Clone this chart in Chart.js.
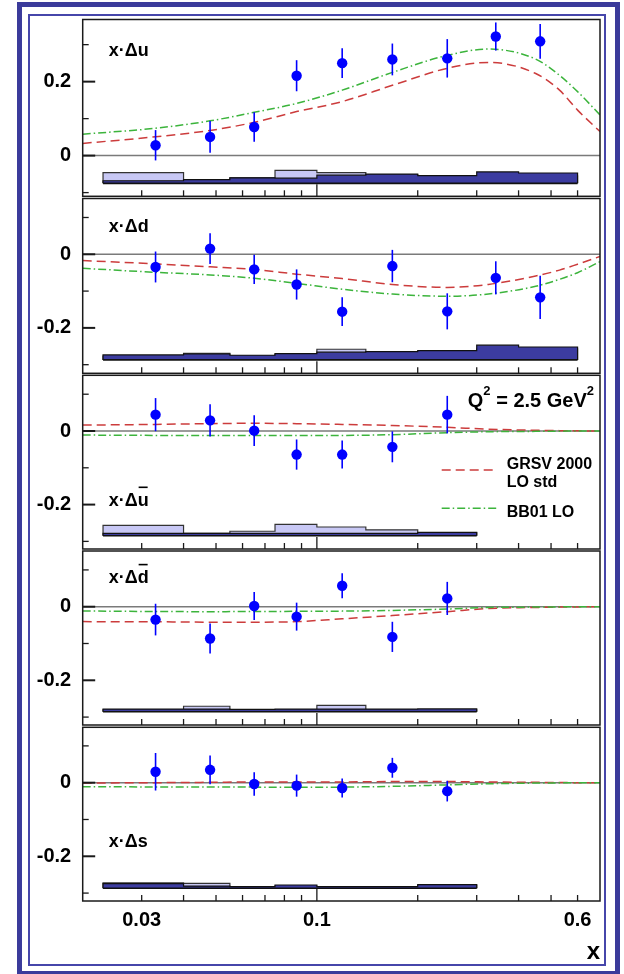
<!DOCTYPE html>
<html>
<head>
<meta charset="utf-8">
<script src="https://cdn.jsdelivr.net/npm/chart.js@4.4.1/dist/chart.umd.min.js"></script>
<style>
  html, body { margin: 0; padding: 0; background: #fff; }
  #page { position: relative; width: 624px; height: 974px; overflow: hidden; background: #fff; }
  .outer { position: absolute; left: 17.3px; top: 1.7px; width: 603.2px; height: 974px; box-sizing: border-box; border: 5.3px solid #3b3b9b; }
  .inner { position: absolute; left: 28.3px; top: 14.3px; width: 577.7px; height: 951.7px; box-sizing: border-box; border: 2px solid #4646aa; }
  canvas { position: absolute; left: 0; }
</style>
</head>
<body>
<div id="page">
  <div class="outer"></div>
  <div class="inner"></div>
</div>
<script>
// x binning and positions (HERMES bins)
const xBinEdges = [0.023, 0.04, 0.055, 0.075, 0.1, 0.14, 0.2, 0.3, 0.4, 0.6];
const xMean = [0.033, 0.048, 0.065, 0.087, 0.119, 0.168, 0.245, 0.342, 0.464];
const xCurve = [0.02, 0.033, 0.048, 0.065, 0.087, 0.119, 0.168, 0.245, 0.325, 0.45, 0.53, 0.6, 0.7];
const xTickVals = [0.03, 0.04, 0.05, 0.06, 0.07, 0.08, 0.09, 0.1, 0.2, 0.3, 0.4, 0.5, 0.6];
const xLabelVals = [0.03, 0.1, 0.6];

// x·Δu
const duVal = [0.028, 0.0505, 0.0775, 0.216, 0.250, 0.260, 0.263, 0.322, 0.309];
const duErr = [0.041, 0.043, 0.040, 0.042, 0.040, 0.043, 0.052, 0.038, 0.047];
const duGrsv = [0.033, 0.051, 0.068, 0.090, 0.119, 0.146, 0.190, 0.236, 0.252, 0.222, 0.177, 0.123, 0.065];
const duBb01 = [0.058, 0.074, 0.094, 0.117, 0.141, 0.177, 0.225, 0.271, 0.288, 0.261, 0.217, 0.173, 0.110];
const duSysDark = [0.007, 0.010, 0.015, 0.014, 0.022, 0.025, 0.021, 0.031, 0.028];
const duSysLight = [0.029, 0.008, 0.015, 0.035, 0.029, 0.024, 0.015, 0.020, 0.020];

// x·Δd
const ddVal = [-0.0345, 0.0155, -0.041, -0.082, -0.156, -0.032, -0.155, -0.064, -0.117];
const ddErr = [0.042, 0.042, 0.040, 0.041, 0.039, 0.044, 0.049, 0.045, 0.059];
const ddGrsv = [-0.017, -0.026, -0.034, -0.041, -0.054, -0.066, -0.082, -0.090, -0.082, -0.059, -0.043, -0.027, -0.006];
const ddBb01 = [-0.038, -0.049, -0.056, -0.065, -0.079, -0.095, -0.108, -0.114, -0.108, -0.087, -0.068, -0.050, -0.020];
const ddSysDark = [0.0135, 0.016, 0.0127, 0.017, 0.021, 0.0226, 0.025, 0.040, 0.035];
const ddSysLight = [0.010, 0.018, 0.010, 0.015, 0.029, 0.020, 0.020, 0.030, 0.030];

// x·Δū
const ubVal = [0.0445, 0.029, 0.001, -0.064, -0.064, -0.043, 0.0445];
const ubErr = [0.045, 0.044, 0.042, 0.041, 0.038, 0.042, 0.051];
const ubGrsv = [0.016, 0.018, 0.020, 0.021, 0.020, 0.018, 0.015, 0.010, 0.005, 0.002, 0.001, 0.0005, 0];
const ubBb01 = [-0.011, -0.012, -0.0125, -0.0125, -0.012, -0.012, -0.010, -0.0045, -0.002, -0.001, -0.0005, 0, 0];
const ubSysDark = [0.0065, 0.0065, 0.0065, 0.0065, 0.0065, 0.0065, 0.009];
const ubSysLight = [0.028, 0.0065, 0.012, 0.031, 0.0236, 0.016, 0.008];

// x·Δd̄
const dbVal = [-0.035, -0.0865, 0.002, -0.027, 0.057, -0.082, 0.0225];
const dbErr = [0.043, 0.041, 0.038, 0.038, 0.034, 0.041, 0.045];
const dbGrsv = [-0.0405, -0.041, -0.042, -0.042, -0.0405, -0.033, -0.024, -0.0135, -0.005, -0.002, -0.001, -0.0005, 0];
const dbBb01 = [-0.0117, -0.013, -0.0135, -0.013, -0.0126, -0.012, -0.010, -0.0063, -0.002, -0.001, -0.0005, 0, 0];
const dbSysDark = [0.007, 0.007, 0.006, 0.007, 0.007, 0.007, 0.0075];
const dbSysLight = [0.005, 0.0147, 0.005, 0.005, 0.0174, 0.005, 0.005];

// x·Δs
const dsVal = [0.0297, 0.035, -0.0036, -0.008, -0.0144, 0.0405, -0.023];
const dsErr = [0.051, 0.039, 0.032, 0.030, 0.026, 0.027, 0.028];
const dsGrsv = [-0.001, 0, 0.001, 0.002, 0.002, 0.002, 0.003, 0.003, 0.002, 0.001, 0.0005, 0, 0];
const dsBb01 = [-0.011, -0.0115, -0.0117, -0.012, -0.0126, -0.012, -0.010, -0.006, -0.003, -0.001, -0.0005, 0, 0];
const dsSysDark = [0.0125, 0.006, 0.0045, 0.009, 0.0045, 0.0045, 0.010];
const dsSysLight = [0.0145, 0.0136, 0.004, 0.006, 0.004, 0.004, 0.008];

const BLUE = '#0000ff';
const RED = '#cc3c3c';
const GREEN = '#3cb43c';
const DARK = '#3c3ca0';
const LIGHT = '#c8c8f5';
const FONT = '"Liberation Sans", Arial, Helvetica, sans-serif';

const panels = [
  { label: 'x\u00B7\u0394', flav: 'u', bar: false, vals: duVal, errs: duErr, grsv: duGrsv, bb: duBb01,
    dark: duSysDark, light: duSysLight, sysBase: -0.075, yMin: -0.110, yMax: 0.368,
    top: 19.5, bottom: 196.3, labelDy: 36.5 },
  { label: 'x\u00B7\u0394', flav: 'd', bar: false, vals: ddVal, errs: ddErr, grsv: ddGrsv, bb: ddBb01,
    dark: ddSysDark, light: ddSysLight, sysBase: -0.287, yMin: -0.3234, yMax: 0.1516,
    top: 198.5, bottom: 373.3, labelDy: 33.2 },
  { label: 'x\u00B7\u0394', flav: 'u', bar: true, vals: ubVal, errs: ubErr, grsv: ubGrsv, bb: ubBb01,
    dark: ubSysDark, light: ubSysLight, sysBase: -0.2845, yMin: -0.3207, yMax: 0.1514,
    top: 375.3, bottom: 549, labelDy: 130.7, legend: true },
  { label: 'x\u00B7\u0394', flav: 'd', bar: true, vals: dbVal, errs: dbErr, grsv: dbGrsv, bb: dbBb01,
    dark: dbSysDark, light: dbSysLight, sysBase: -0.2853, yMin: -0.3215, yMax: 0.1514,
    top: 551, bottom: 725, labelDy: 32.3 },
  { label: 'x\u00B7\u0394', flav: 's', bar: false, vals: dsVal, errs: dsErr, grsv: dsGrsv, bb: dsBb01,
    dark: dsSysDark, light: dsSysLight, sysBase: -0.287, yMin: -0.3215, yMax: 0.1505,
    top: 727.3, bottom: 901, labelDy: 120, last: true }
];

function isMajor(v) {
  const r = v / 0.2;
  return Math.abs(r - Math.round(r)) < 1e-6;
}

function stepData(heights, base) {
  const n = heights.length;
  const pts = [{ x: xBinEdges[0], y: base }];
  heights.forEach((h, i) => pts.push({ x: xBinEdges[i], y: base + h }));
  pts.push({ x: xBinEdges[n], y: base + heights[n - 1] });
  pts.push({ x: xBinEdges[n], y: base });
  return pts;
}

const decor = {
  id: 'decor',
  afterDatasetsDraw(chart, args, o) {
    const { ctx, scales: { x, y } } = chart;
    const ds = chart.data.datasets.find(d => d.errors);
    ctx.save();
    ctx.strokeStyle = BLUE;
    ctx.lineWidth = 1.6;
    ds.data.forEach((p, i) => {
      const px = x.getPixelForValue(p.x);
      ctx.beginPath();
      ctx.moveTo(px, y.getPixelForValue(p.y - ds.errors[i]));
      ctx.lineTo(px, y.getPixelForValue(p.y + ds.errors[i]));
      ctx.stroke();
    });
    ctx.restore();
  },
  afterDraw(chart, args, o) {
    const { ctx, chartArea: a, scales: { x, y } } = chart;
    ctx.save();
    ctx.strokeStyle = '#1a1a1a';
    ctx.lineWidth = 1.5;
    ctx.strokeRect(a.left, a.top, a.right - a.left, a.bottom - a.top);

    // ticks inside the frame
    y.ticks.forEach(t => {
      const py = y.getPixelForValue(t.value);
      const major = isMajor(t.value);
      ctx.lineWidth = major ? 2 : 1.3;
      ctx.beginPath();
      ctx.moveTo(a.left, py);
      ctx.lineTo(a.left + (major ? 12.5 : 6), py);
      ctx.stroke();
    });
    ctx.lineWidth = 1.3;
    xTickVals.forEach(v => {
      const px = x.getPixelForValue(v);
      ctx.beginPath();
      ctx.moveTo(px, a.bottom);
      ctx.lineTo(px, a.bottom - (v === 0.1 ? 12 : 6));
      ctx.stroke();
    });

    // panel label
    ctx.fillStyle = '#000';
    ctx.font = 'bold 18px ' + FONT;
    ctx.textBaseline = 'alphabetic';
    ctx.textAlign = 'left';
    const lx = a.left + 26, ly = a.top + o.labelDy;
    ctx.fillText(o.label, lx, ly);
    const w = ctx.measureText(o.label).width;
    ctx.fillText(o.flav, lx + w, ly);
    if (o.bar) {
      const fw = ctx.measureText(o.flav).width;
      ctx.fillRect(lx + w + 1, ly - 19.5, fw - 2, 1.6);
    }

    if (o.legend) {
      // Q^2 = 2.5 GeV^2
      const parts = [['Q', 20, 0], ['2', 13, 12], [' = 2.5 GeV', 20, 0], ['2', 13, 12]];
      let total = 0;
      parts.forEach(p => { ctx.font = 'bold ' + p[1] + 'px ' + FONT; total += ctx.measureText(p[0]).width; });
      let qx = 594 - total;
      const qy = a.top + 32;
      parts.forEach(p => {
        ctx.font = 'bold ' + p[1] + 'px ' + FONT;
        ctx.fillText(p[0], qx, qy - p[2]);
        qx += ctx.measureText(p[0]).width;
      });

      const items = chart.data.datasets.filter(d => d.legendText)
        .sort((d1, d2) => d1.legendRank - d2.legendRank);
      const sampleY = [94.7, 133];
      const textY = [[94, 111.4], [141.4]];
      items.forEach((d, k) => {
        ctx.strokeStyle = d.borderColor;
        ctx.lineWidth = d.borderWidth;
        ctx.setLineDash(d.borderDash);
        ctx.beginPath();
        ctx.moveTo(441.7, a.top + sampleY[k]);
        ctx.lineTo(496.7, a.top + sampleY[k]);
        ctx.stroke();
        ctx.setLineDash([]);
        ctx.font = 'bold 16px ' + FONT;
        d.legendText.forEach((line, j) => ctx.fillText(line, 506.7, a.top + textY[k][j]));
      });
    }
    ctx.restore();
  }
};

const page = document.getElementById('page');

panels.forEach(p => {
  const canvasTop = Math.floor(p.top) - 6;
  const axisH = p.last ? 63 : 0;
  const canvasH = Math.ceil(p.bottom) + (p.last ? axisH + 4 : 6) - canvasTop;
  const canvas = document.createElement('canvas');
  canvas.width = 624;
  canvas.height = canvasH;
  canvas.style.top = canvasTop + 'px';
  page.appendChild(canvas);

  const n = p.vals.length;
  const lastEdge = xBinEdges[n];

  new Chart(canvas, {
    type: 'scatter',
    data: {
      datasets: [
        {
          data: xMean.slice(0, n).map((x, i) => ({ x: x, y: p.vals[i] })),
          errors: p.errs,
          backgroundColor: BLUE, borderColor: BLUE,
          pointRadius: 5.2, pointBorderWidth: 0, showLine: false, order: 0
        },
        {
          data: xCurve.map((x, i) => ({ x: x, y: p.bb[i] })),
          legendText: p.legend ? ['BB01 LO'] : null, legendRank: 2,
          showLine: true, borderColor: GREEN, borderWidth: 1.5, borderDash: [8, 3, 1.5, 3],
          pointRadius: 0, cubicInterpolationMode: 'monotone', order: 2
        },
        {
          data: xCurve.map((x, i) => ({ x: x, y: p.grsv[i] })),
          legendText: p.legend ? ['GRSV 2000', 'LO std'] : null, legendRank: 1,
          showLine: true, borderColor: RED, borderWidth: 1.5, borderDash: [9, 5],
          pointRadius: 0, cubicInterpolationMode: 'monotone', order: 3
        },
        {
          data: [{ x: xBinEdges[0], y: p.sysBase }, { x: lastEdge, y: p.sysBase }],
          showLine: true, borderColor: '#111', borderWidth: 1.6, pointRadius: 0, order: 6
        },
        {
          data: stepData(p.dark, p.sysBase),
          showLine: true, stepped: 'before', fill: { value: p.sysBase },
          backgroundColor: DARK, borderColor: '#111', borderWidth: 1.2, pointRadius: 0, order: 7
        },
        {
          data: stepData(p.light, p.sysBase),
          showLine: true, stepped: 'before', fill: { value: p.sysBase },
          backgroundColor: LIGHT, borderColor: '#333', borderWidth: 1.2, pointRadius: 0, order: 8
        },
        {
          data: [{ x: 0.02, y: 0 }, { x: 0.7, y: 0 }],
          showLine: true, borderColor: '#7a7a7a', borderWidth: 1.5, pointRadius: 0, order: 10
        }
      ]
    },
    options: {
      responsive: false,
      animation: false,
      devicePixelRatio: 1,
      events: [],
      layout: {
        padding: {
          left: 12.7,
          right: 24,
          top: p.top - canvasTop,
          bottom: canvasTop + canvasH - p.bottom - axisH
        }
      },
      plugins: {
        legend: { display: false },
        tooltip: { enabled: false },
        decor: { label: p.label, flav: p.flav, bar: p.bar, labelDy: p.labelDy, legend: !!p.legend }
      },
      scales: {
        x: {
          type: 'logarithmic',
          min: 0.02,
          max: 0.7,
          display: !!p.last,
          grid: { display: false, drawTicks: false },
          border: { display: false },
          afterBuildTicks: s => { s.ticks = xTickVals.map(v => ({ value: v })); },
          afterFit: s => { s.height = axisH; s.paddingLeft = 0; s.paddingRight = 0; },
          ticks: {
            autoSkip: false,
            maxRotation: 0,
            padding: 7,
            color: '#000',
            font: { family: FONT, size: 20, weight: 'bold' },
            callback: v => xLabelVals.some(l => Math.abs(l - v) < 1e-9) ? String(v) : ''
          },
          title: {
            display: true,
            text: 'x',
            align: 'end',
            color: '#000',
            font: { family: FONT, size: 24, weight: 'bold', lineHeight: 1 },
            padding: { top: 0, bottom: 0 }
          }
        },
        y: {
          min: p.yMin,
          max: p.yMax,
          grid: { display: false, drawTicks: false },
          border: { display: false },
          afterFit: s => { s.width = 70; s.paddingTop = 0; s.paddingBottom = 0; },
          ticks: {
            stepSize: 0.05,
            includeBounds: false,
            padding: 11.5,
            color: '#000',
            font: { family: FONT, size: 20, weight: 'bold' },
            callback: v => isMajor(v) ? String(Math.round(v * 10) / 10) : ''
          }
        }
      }
    },
    plugins: [decor]
  });
});
</script>
</body>
</html>
